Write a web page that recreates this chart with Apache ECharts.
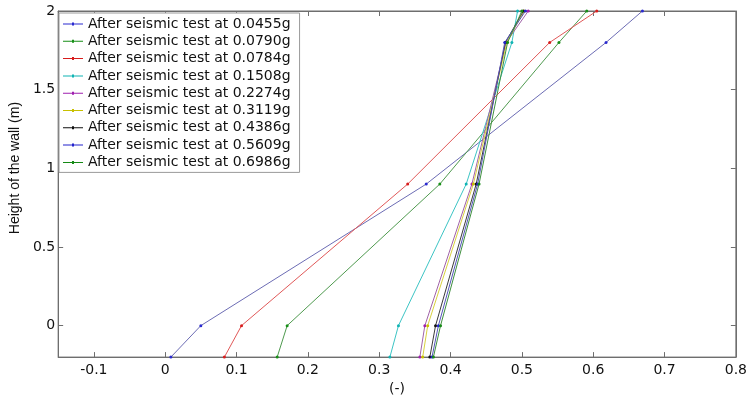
<!DOCTYPE html>
<html>
<head>
<meta charset="utf-8">
<script src="https://cdn.jsdelivr.net/npm/echarts@6/dist/echarts.min.js"></script>
<style>
  html, body { margin: 0; padding: 0; background: #fff; }
  #chart { width: 750px; height: 401px; }
</style>
</head>
<body>
<div id="chart"></div>
<script>
// Wall height at which each profile value was measured (m)
var heights = [-0.2, 0, 0.9, 1.8, 2];

// Test labels (peak ground acceleration)
var testNames = [
  'After seismic test at 0.0455g',
  'After seismic test at 0.0790g',
  'After seismic test at 0.0784g',
  'After seismic test at 0.1508g',
  'After seismic test at 0.2274g',
  'After seismic test at 0.3119g',
  'After seismic test at 0.4386g',
  'After seismic test at 0.5609g',
  'After seismic test at 0.6986g'
];

// Profile values (-) at each height, one array per test
var test0455 = [0.008, 0.050, 0.366, 0.618, 0.669];
var test0790 = [0.157, 0.171, 0.385, 0.552, 0.591];
var test0784 = [0.083, 0.107, 0.340, 0.539, 0.605];
var test1508 = [0.315, 0.327, 0.422, 0.486, 0.494];
var test2274 = [0.357, 0.364, 0.430, 0.478, 0.509];
var test3119 = [0.361, 0.368, 0.432, 0.479, 0.503];
var test4386 = [0.371, 0.379, 0.436, 0.477, 0.502];
var test5609 = [0.374, 0.383, 0.438, 0.476, 0.505];
var test6986 = [0.376, 0.386, 0.440, 0.480, 0.500];

var xTicks = [-0.1, 0, 0.1, 0.2, 0.3, 0.4, 0.5, 0.6, 0.7, 0.8];
var yTicks = [0, 0.5, 1, 1.5, 2];

var allValues = [test0455, test0790, test0784, test1508, test2274,
                 test3119, test4386, test5609, test6986];
var lineColors = ['#6c6cb4', '#4f9a4f', '#e05858', '#3cc4c4', '#a062a8',
                  '#d8d040', '#3a3a3a', '#5454b8', '#3f8f3f'];
var dotColors = ['#2a2ad0', '#178f17', '#d81c1c', '#10b4b4', '#a020b0',
                 '#c8c000', '#101010', '#2222cc', '#158a15'];

var FONT = 'DejaVu Sans';

function seriesFor(i) {
  return {
    name: testNames[i],
    type: 'line',
    data: heights.map(function (h, k) { return [allValues[i][k], h]; }),
    symbol: 'circle',
    symbolSize: 3,
    showSymbol: true,
    lineStyle: { width: 1, color: lineColors[i] },
    itemStyle: { color: dotColors[i] },
    emphasis: { disabled: true },
    animation: false
  };
}

var axisLineStyle = { color: '#6e6e6e', width: 1 };

// Legend marker: a thin line with a small dot in the middle
var legendIcon = 'path://M0,1 L20,1 L20,2 L0,2 Z M9,0 L11,0 L11,3 L9,3 Z';

var chart = echarts.init(document.getElementById('chart'), null, { renderer: 'canvas' });
chart.setOption({
  backgroundColor: '#ffffff',
  animation: false,
  grid: { left: 56, right: 13, top: 11, bottom: 37, show: true, borderColor: '#6e6e6e', borderWidth: 1 },
  legend: {
    left: 59,
    top: 13,
    orient: 'vertical',
    backgroundColor: '#ffffff',
    borderColor: '#9a9a9a',
    borderWidth: 1,
    borderRadius: 0,
    padding: [4, 9, 3, 4],
    icon: legendIcon,
    itemWidth: 20,
    itemHeight: 3,
    itemGap: 3.3,
    textStyle: { fontFamily: FONT, fontSize: 14, color: '#111111' },
    data: testNames
  },
  xAxis: [{
    type: 'value',
    min: -0.15,
    max: 0.8,
    name: '(-)',
    nameLocation: 'middle',
    nameGap: 13,
    nameTextStyle: { fontFamily: FONT, fontSize: 14, color: '#111111', verticalAlign: 'top' },
    axisLine: { show: true, onZero: false, lineStyle: axisLineStyle },
    axisTick: { show: true, inside: true, length: 5, lineStyle: axisLineStyle, customValues: xTicks },
    axisLabel: { fontFamily: FONT, fontSize: 14, color: '#111111', margin: 6, customValues: xTicks,
                 formatter: function (v) { return String(Math.round(v * 10) / 10); } },
    splitLine: { show: false }
  }, {
    type: 'value',
    position: 'top',
    min: -0.15,
    max: 0.8,
    axisLine: { show: true, onZero: false, lineStyle: axisLineStyle },
    axisTick: { show: true, inside: true, length: 5, lineStyle: axisLineStyle, customValues: xTicks },
    axisLabel: { show: false },
    splitLine: { show: false }
  }],
  yAxis: [{
    type: 'value',
    min: -0.2,
    max: 2,
    name: 'Height of the wall (m)',
    nameLocation: 'middle',
    nameGap: 29,
    nameTextStyle: { fontFamily: 'Liberation Sans', fontSize: 14, color: '#111111', padding: [0, 0, 0, 32] },
    axisLine: { show: true, onZero: false, lineStyle: axisLineStyle },
    axisTick: { show: true, inside: true, length: 5, lineStyle: axisLineStyle, customValues: yTicks },
    axisLabel: { fontFamily: FONT, fontSize: 14, color: '#111111', margin: 3, customValues: yTicks,
                 formatter: function (v) { return String(Math.round(v * 10) / 10); } },
    splitLine: { show: false }
  }, {
    type: 'value',
    position: 'right',
    min: -0.2,
    max: 2,
    axisLine: { show: true, onZero: false, lineStyle: axisLineStyle },
    axisTick: { show: true, inside: true, length: 5, lineStyle: axisLineStyle, customValues: yTicks },
    axisLabel: { show: false },
    splitLine: { show: false }
  }],
  series: allValues.map(function (_, i) { return seriesFor(i); })
});
</script>
</body>
</html>
